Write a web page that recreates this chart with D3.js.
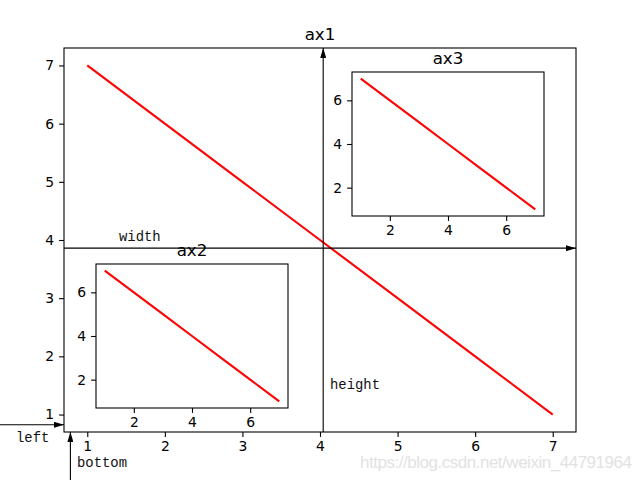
<!DOCTYPE html>
<html>
<head>
<meta charset="utf-8">
<script src="https://cdn.jsdelivr.net/npm/d3@7"></script>
<style>
  body { margin: 0; background: #fff; }
  .tick text { font-family: "DejaVu Sans", sans-serif; font-size: 13.9px; fill: #000; }
</style>
</head>
<body>
<script>
// data
var xVals = [1, 2, 3, 4, 5, 6, 7];
var yVals = [7, 6, 5, 4, 3, 2, 1];
var mainTicks = [1, 2, 3, 4, 5, 6, 7];
var insetTicks = [2, 4, 6];
var axesNames = ["ax1", "ax2", "ax3"];

var W = 640, H = 480;

var svg = d3.select("body")
    .append("svg")
    .attr("width", W)
    .attr("height", H)
    .style("background-color", "#fff");

// axes rectangles in figure fraction [left, bottom, width, height]
var rects = [[0.1, 0.1, 0.8, 0.8], [0.15, 0.15, 0.3, 0.3], [0.55, 0.55, 0.3, 0.3]];
var tickSets = [mainTicks, insetTicks, insetTicks];

var pts = xVals.map(function(d, i){ return [d, yVals[i]]; });
var ext = d3.extent(xVals), pad = (ext[1] - ext[0]) * 0.05;
var yExt = d3.extent(yVals), yPad = (yExt[1] - yExt[0]) * 0.05;

rects.forEach(function(r, k){
    var x0 = r[0] * W, w = r[2] * W;
    var y0 = H - (r[1] + r[3]) * H, h = r[3] * H;

    var g = svg.append("g").attr("transform", "translate(" + x0 + "," + y0 + ")");

    var x = d3.scaleLinear().domain([ext[0] - pad, ext[1] + pad]).range([0, w]);
    var y = d3.scaleLinear().domain([yExt[0] - yPad, yExt[1] + yPad]).range([h, 0]);

    g.append("rect")
        .attr("width", w).attr("height", h)
        .attr("fill", "#fff");

    g.append("path")
        .datum(pts)
        .attr("fill", "none")
        .attr("stroke", "#ff0000")
        .attr("stroke-width", 2.1)
        .attr("d", d3.line().x(function(d){ return x(d[0]); }).y(function(d){ return y(d[1]); }));

    var xa = g.append("g")
        .attr("transform", "translate(0," + h + ")")
        .call(d3.axisBottom(x).tickValues(tickSets[k]).tickFormat(d3.format("d")).tickSize(4.9).tickPadding(4.4));
    var ya = g.append("g")
        .call(d3.axisLeft(y).tickValues(tickSets[k]).tickFormat(d3.format("d")).tickSize(4.9).tickPadding(4.9));
    [xa, ya].forEach(function(a){
        a.select(".domain").remove();
        a.selectAll(".tick line").attr("stroke", "#000").attr("stroke-width", 1.1);
    });

    g.append("rect")
        .attr("width", w).attr("height", h)
        .attr("fill", "none")
        .attr("stroke", "#000")
        .attr("stroke-width", 1.1);

    g.append("text")
        .attr("x", w / 2)
        .attr("y", -8.3)
        .attr("text-anchor", "middle")
        .style("font-family", "DejaVu Sans, sans-serif")
        .style("font-size", "16.7px")
        .text(axesNames[k]);
});

// arrows in figure coordinates
var defs = svg.append("defs");
defs.append("marker")
    .attr("id", "head")
    .attr("viewBox", "0 0 10 6")
    .attr("refX", 10).attr("refY", 3)
    .attr("markerWidth", 10).attr("markerHeight", 6)
    .attr("markerUnits", "userSpaceOnUse")
    .attr("orient", "auto")
    .append("path")
    .attr("d", "M0,0 L10,3 L0,6 Z")
    .attr("fill", "#000");

var arrows = [
    [[0.1, 0.483], [0.9, 0.483]],
    [[0.505, 0.1], [0.505, 0.9]],
    [[0.0, 0.115], [0.1, 0.115]],
    [[0.11, 0.0], [0.11, 0.1]]
];
svg.selectAll(".arrow")
    .data(arrows)
    .enter()
    .append("line")
    .attr("class", "arrow")
    .attr("x1", function(d){ return d[0][0] * W; })
    .attr("y1", function(d){ return H - d[0][1] * H; })
    .attr("x2", function(d){ return d[1][0] * W; })
    .attr("y2", function(d){ return H - d[1][1] * H; })
    .attr("stroke", "#000")
    .attr("stroke-width", 1.1)
    .attr("marker-end", "url(#head)");

var notes = [
    ["width", 119, 241],
    ["height", 330, 389],
    ["left", 16, 442],
    ["bottom", 77, 467]
];
svg.selectAll(".note")
    .data(notes)
    .enter()
    .append("text")
    .attr("class", "note")
    .attr("x", function(d){ return d[1]; })
    .attr("y", function(d){ return d[2]; })
    .style("font-family", "Liberation Mono, monospace")
    .style("font-size", "13.9px")
    .style("fill", "#111")
    .text(function(d){ return d[0]; });

// watermark
svg.append("text")
    .attr("x", 632)
    .attr("y", 468)
    .attr("text-anchor", "end")
    .attr("textLength", 272)
    .style("font-family", "Liberation Sans, Arial, sans-serif")
    .style("font-size", "17px")
    .style("fill", "#e2e2e2")
    .text("https://blog.csdn.net/weixin_44791964");
</script>
</body>
</html>
